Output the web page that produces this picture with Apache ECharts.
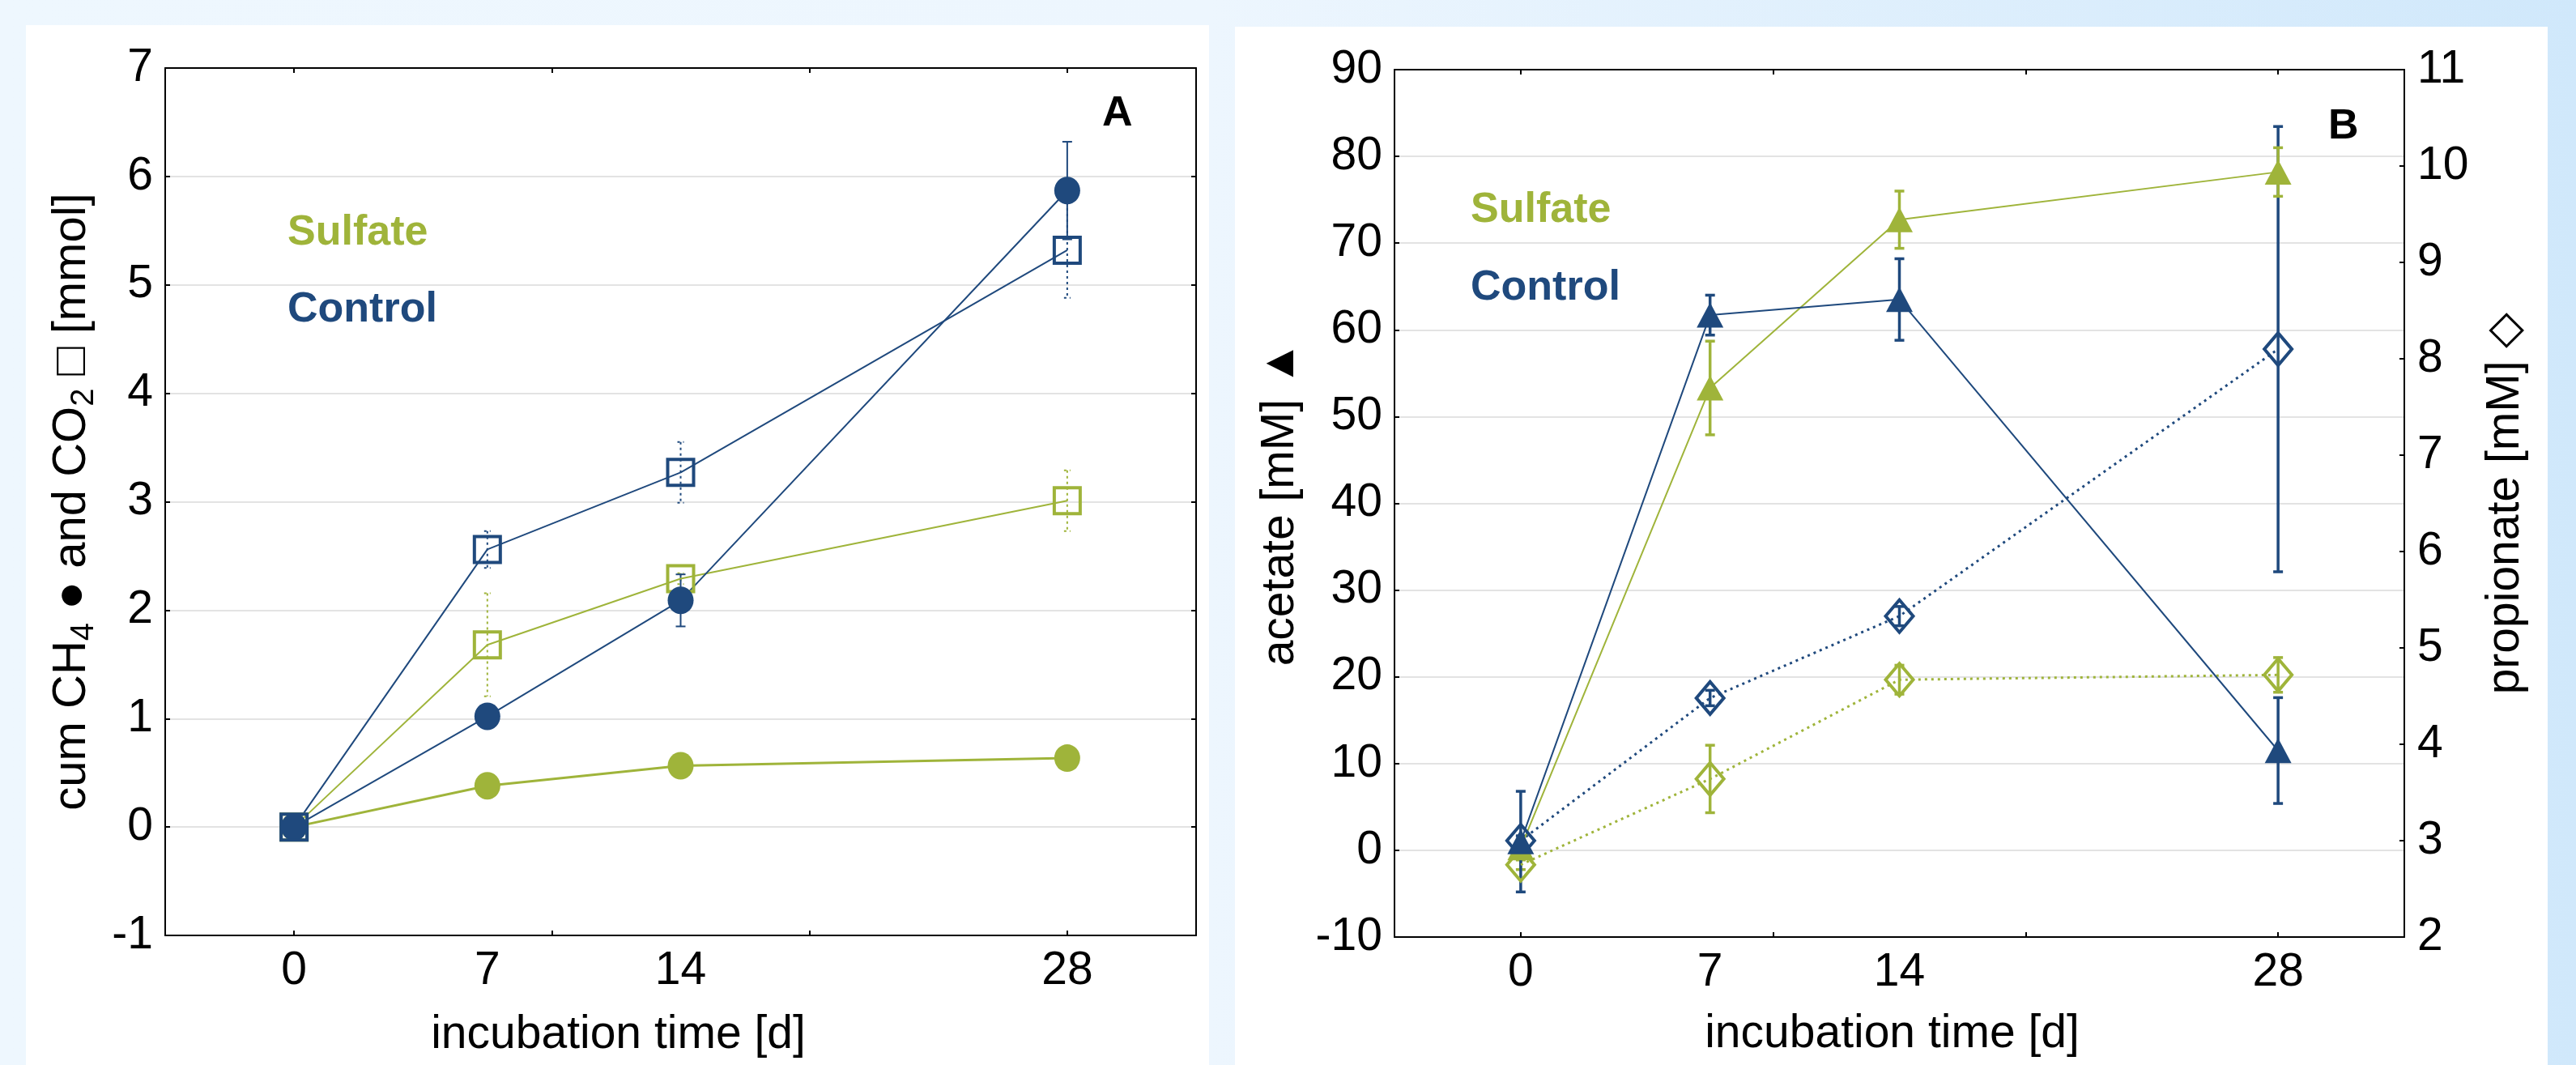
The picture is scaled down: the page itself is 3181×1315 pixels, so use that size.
<!DOCTYPE html>
<html>
<head>
<meta charset="utf-8">
<script src="https://cdn.jsdelivr.net/npm/echarts@6/dist/echarts.min.js"></script>
<style>
  html, body { margin: 0; padding: 0; }
  body {
    width: 3181px; height: 1315px; position: relative; overflow: hidden;
    background: linear-gradient(to right, #eef7fe 0%, #edf6fe 47%, #d0e8fb 100%);
  }
  .panel { position: absolute; background: #fff; }
  #main { position: absolute; left: 0; top: 0; width: 3181px; height: 1315px; }
</style>
</head>
<body>
<div class="panel" style="left:32px;top:31px;width:1461px;height:1284px"></div>
<div class="panel" style="left:1525px;top:33px;width:1621px;height:1282px"></div>
<div id="main"></div>
<script>
// incubation days and axis ticks
var days = [0, 7, 14, 28]
var dayLabels = [0, 7, 14, 28]
var dayTickMarks = [0, 28 / 3, 56 / 3, 28]

// panel A: cumulative CH4 (circles) and CO2 (squares) [mmol]
var ctrlCH4 = [0, 1.02, 2.09, 5.87]
var ctrlCH4Err = [0, 0, 0.24, 0.45]
var ctrlCO2 = [0, 2.56, 3.27, 5.32]
var ctrlCO2Err = [0, 0.17, 0.28, 0.44]
var sulfCH4 = [0, 0.38, 0.565, 0.635]
var sulfCO2 = [0, 1.68, 2.29, 3.01]
var sulfCO2Err = [0, 0.475, 0.05, 0.28]

// panel B: acetate (triangles, left axis) and propionate (diamonds, right axis) [mM]
var ctrlAcetate = [1.0, 61.7, 63.5, 11.5]
var ctrlAcetateErr = [5.8, 2.3, 4.7, 6.1]
var sulfAcetate = [0.3, 53.3, 72.7, 78.2]
var sulfAcetateErr = [0, 5.4, 3.3, 2.8]
var ctrlPropionate = [3.0, 4.48, 5.33, 8.10]
var ctrlPropionateErr = [0.05, 0.08, 0.1, 2.31]
var sulfPropionate = [2.75, 3.64, 4.67, 4.72]
var sulfPropionateErr = [0.05, 0.35, 0.15, 0.18]

var BLUE = '#1f497d'
var GREEN = '#9fb43a'
var FONT = '"Liberation Sans", Arial, sans-serif'

function pts(vals) {
  return days.map(function (d, i) { return [d, vals[i]] })
}

function errSeries(vals, errs, color, width, dash, cap, xi, yi) {
  var data = []
  days.forEach(function (d, i) { if (errs[i] > 0) data.push([d, vals[i], errs[i]]) })
  return {
    type: 'custom', xAxisIndex: xi, yAxisIndex: yi, z: 1, silent: true,
    encode: { x: 0, y: 1 },
    data: data,
    renderItem: function (params, api) {
      var x = api.value(0), y = api.value(1), e = api.value(2)
      var hi = api.coord([x, y + e]), lo = api.coord([x, y - e])
      var st = { stroke: color, lineWidth: width, lineDash: dash }
      return {
        type: 'group',
        children: [
          { type: 'line', shape: { x1: hi[0], y1: hi[1], x2: lo[0], y2: lo[1] }, style: st },
          { type: 'line', shape: { x1: hi[0] - cap, y1: hi[1], x2: hi[0] + cap, y2: hi[1] }, style: st },
          { type: 'line', shape: { x1: lo[0] - cap, y1: lo[1], x2: lo[0] + cap, y2: lo[1] }, style: st }
        ]
      }
    }
  }
}

function lineSeries(vals, color, symbol, size, hollow, lw, dash, xi, yi) {
  return {
    type: 'line', xAxisIndex: xi, yAxisIndex: yi, z: 3, silent: true,
    data: pts(vals), symbol: symbol, symbolSize: size, showSymbol: true, clip: false,
    lineStyle: { color: color, width: lw, type: dash || 'solid' },
    itemStyle: hollow
      ? { color: 'rgba(255,255,255,0)', borderColor: color, borderWidth: 4 }
      : { color: color, borderWidth: 0 }
  }
}

var frameLine = { show: true, onZero: false, lineStyle: { color: '#000', width: 2 } }

function xAxisBottom(grid, name, pad, gap) {
  return {
    type: 'value', gridIndex: grid, position: 'bottom', min: -14 / 3, max: 98 / 3,
    axisLine: frameLine,
    axisTick: { show: true, inside: true, length: 6, customValues: dayTickMarks, lineStyle: { color: '#000', width: 2 } },
    axisLabel: { customValues: dayLabels, fontSize: 57, fontFamily: FONT, color: '#000', margin: 16 },
    splitLine: { show: false },
    name: name, nameLocation: 'middle', nameGap: gap,
    nameTextStyle: { fontSize: 57, fontFamily: FONT, color: '#000', padding: pad }
  }
}

function xAxisTop(grid) {
  return {
    type: 'value', gridIndex: grid, position: 'top', min: -14 / 3, max: 98 / 3,
    axisLine: frameLine,
    axisTick: { show: true, inside: true, length: 6, customValues: dayTickMarks, lineStyle: { color: '#000', width: 2 } },
    axisLabel: { show: false }, splitLine: { show: false }
  }
}

function yAxisCfg(grid, pos, min, max, step, labels, gridLines) {
  return {
    type: 'value', gridIndex: grid, position: pos, min: min, max: max, interval: step,
    axisLine: frameLine,
    axisTick: { show: true, inside: true, length: 6, lineStyle: { color: '#000', width: 2 } },
    axisLabel: { show: labels, fontSize: 57, fontFamily: FONT, color: '#000', margin: 15 },
    splitLine: { show: gridLines, lineStyle: { color: '#e3e3e3', width: 2 } }
  }
}

var yA = yAxisCfg(0, 'left', -1, 7, 1, true, true)
yA.name = '{a|cum CH}{b|4}{a| \u25CF and CO}{b|2}{a| \u25A1 [mmol]}'
yA.nameLocation = 'middle'
yA.nameRotate = 90
yA.nameGap = 80
yA.nameTextStyle = {
  rich: {
    a: { fontSize: 58, lineHeight: 70, fontFamily: FONT, color: '#000', verticalAlign: 'middle' },
    b: { fontSize: 40, lineHeight: 40, fontFamily: FONT, color: '#000', verticalAlign: 'bottom' }
  }
}
var yAmirror = yAxisCfg(0, 'right', -1, 7, 1, false, false)

var yAcet = yAxisCfg(1, 'left', -10, 90, 10, true, true)
yAcet.name = 'acetate [mM] \u25B2'
yAcet.nameLocation = 'middle'
yAcet.nameRotate = 90
yAcet.nameGap = 112
yAcet.nameTextStyle = { fontSize: 57, fontFamily: FONT, color: '#000' }

var yProp = yAxisCfg(1, 'right', 2, 11, 1, true, false)
yProp.axisLabel.margin = 16
yProp.name = 'propionate [mM] \u25C7'
yProp.nameLocation = 'middle'
yProp.nameRotate = 90
yProp.nameGap = 97
yProp.nameTextStyle = { fontSize: 57, fontFamily: FONT, color: '#000' }

function label(text, x, y, color) {
  return {
    type: 'text', x: x, y: y, silent: true,
    style: { text: text, fill: color, font: 'bold 52px ' + FONT, textAlign: 'left', textVerticalAlign: 'middle' }
  }
}

var option = {
  animation: false,
  backgroundColor: 'transparent',
  grid: [
    { left: 204, top: 84, width: 1273, height: 1071 },
    { left: 1722, top: 86, width: 1247, height: 1071 }
  ],
  xAxis: [
    xAxisBottom(0, 'incubation time [d]', [0, 154, 0, 0], 95),
    xAxisTop(0),
    xAxisBottom(1, 'incubation time [d]', [0, 18, 0, 0], 92),
    xAxisTop(1)
  ],
  yAxis: [yA, yAmirror, yAcet, yProp],
  graphic: [
    label('Sulfate', 355, 288, GREEN),
    label('Control', 355, 383, BLUE),
    label('A', 1361, 141, '#000'),
    label('Sulfate', 1816, 260, GREEN),
    label('Control', 1816, 356, BLUE),
    label('B', 2875, 157, '#000')
  ],
  series: [
    // panel A
    errSeries(sulfCO2, sulfCO2Err, GREEN, 2, [3, 4], 4, 0, 0),
    errSeries(ctrlCO2, ctrlCO2Err, BLUE, 2, [3, 4], 4, 0, 0),
    errSeries(ctrlCH4, ctrlCH4Err, BLUE, 2, null, 6, 0, 0),
    lineSeries(sulfCH4, GREEN, 'circle', [32, 34], false, 3, null, 0, 0),
    lineSeries(sulfCO2, GREEN, 'rect', 32, true, 2, null, 0, 0),
    lineSeries(ctrlCH4, BLUE, 'circle', [32, 34], false, 2, null, 0, 0),
    lineSeries(ctrlCO2, BLUE, 'rect', 32, true, 2, null, 0, 0),
    // panel B
    errSeries(sulfPropionate, sulfPropionateErr, GREEN, 3.5, null, 6, 2, 3),
    errSeries(ctrlPropionate, ctrlPropionateErr, BLUE, 3.5, null, 6, 2, 3),
    errSeries(sulfAcetate, sulfAcetateErr, GREEN, 3.5, null, 6, 2, 2),
    errSeries(ctrlAcetate, ctrlAcetateErr, BLUE, 3.5, null, 6, 2, 2),
    lineSeries(sulfPropionate, GREEN, 'diamond', [34, 40], true, 3, [3, 5], 2, 3),
    lineSeries(ctrlPropionate, BLUE, 'diamond', [34, 40], true, 3, [3, 5], 2, 3),
    lineSeries(sulfAcetate, GREEN, 'triangle', [33, 31], false, 2, null, 2, 2),
    lineSeries(ctrlAcetate, BLUE, 'triangle', [33, 31], false, 2, null, 2, 2)
  ]
}

var chart = echarts.init(document.getElementById('main'))
chart.setOption(option)
</script>
</body>
</html>
